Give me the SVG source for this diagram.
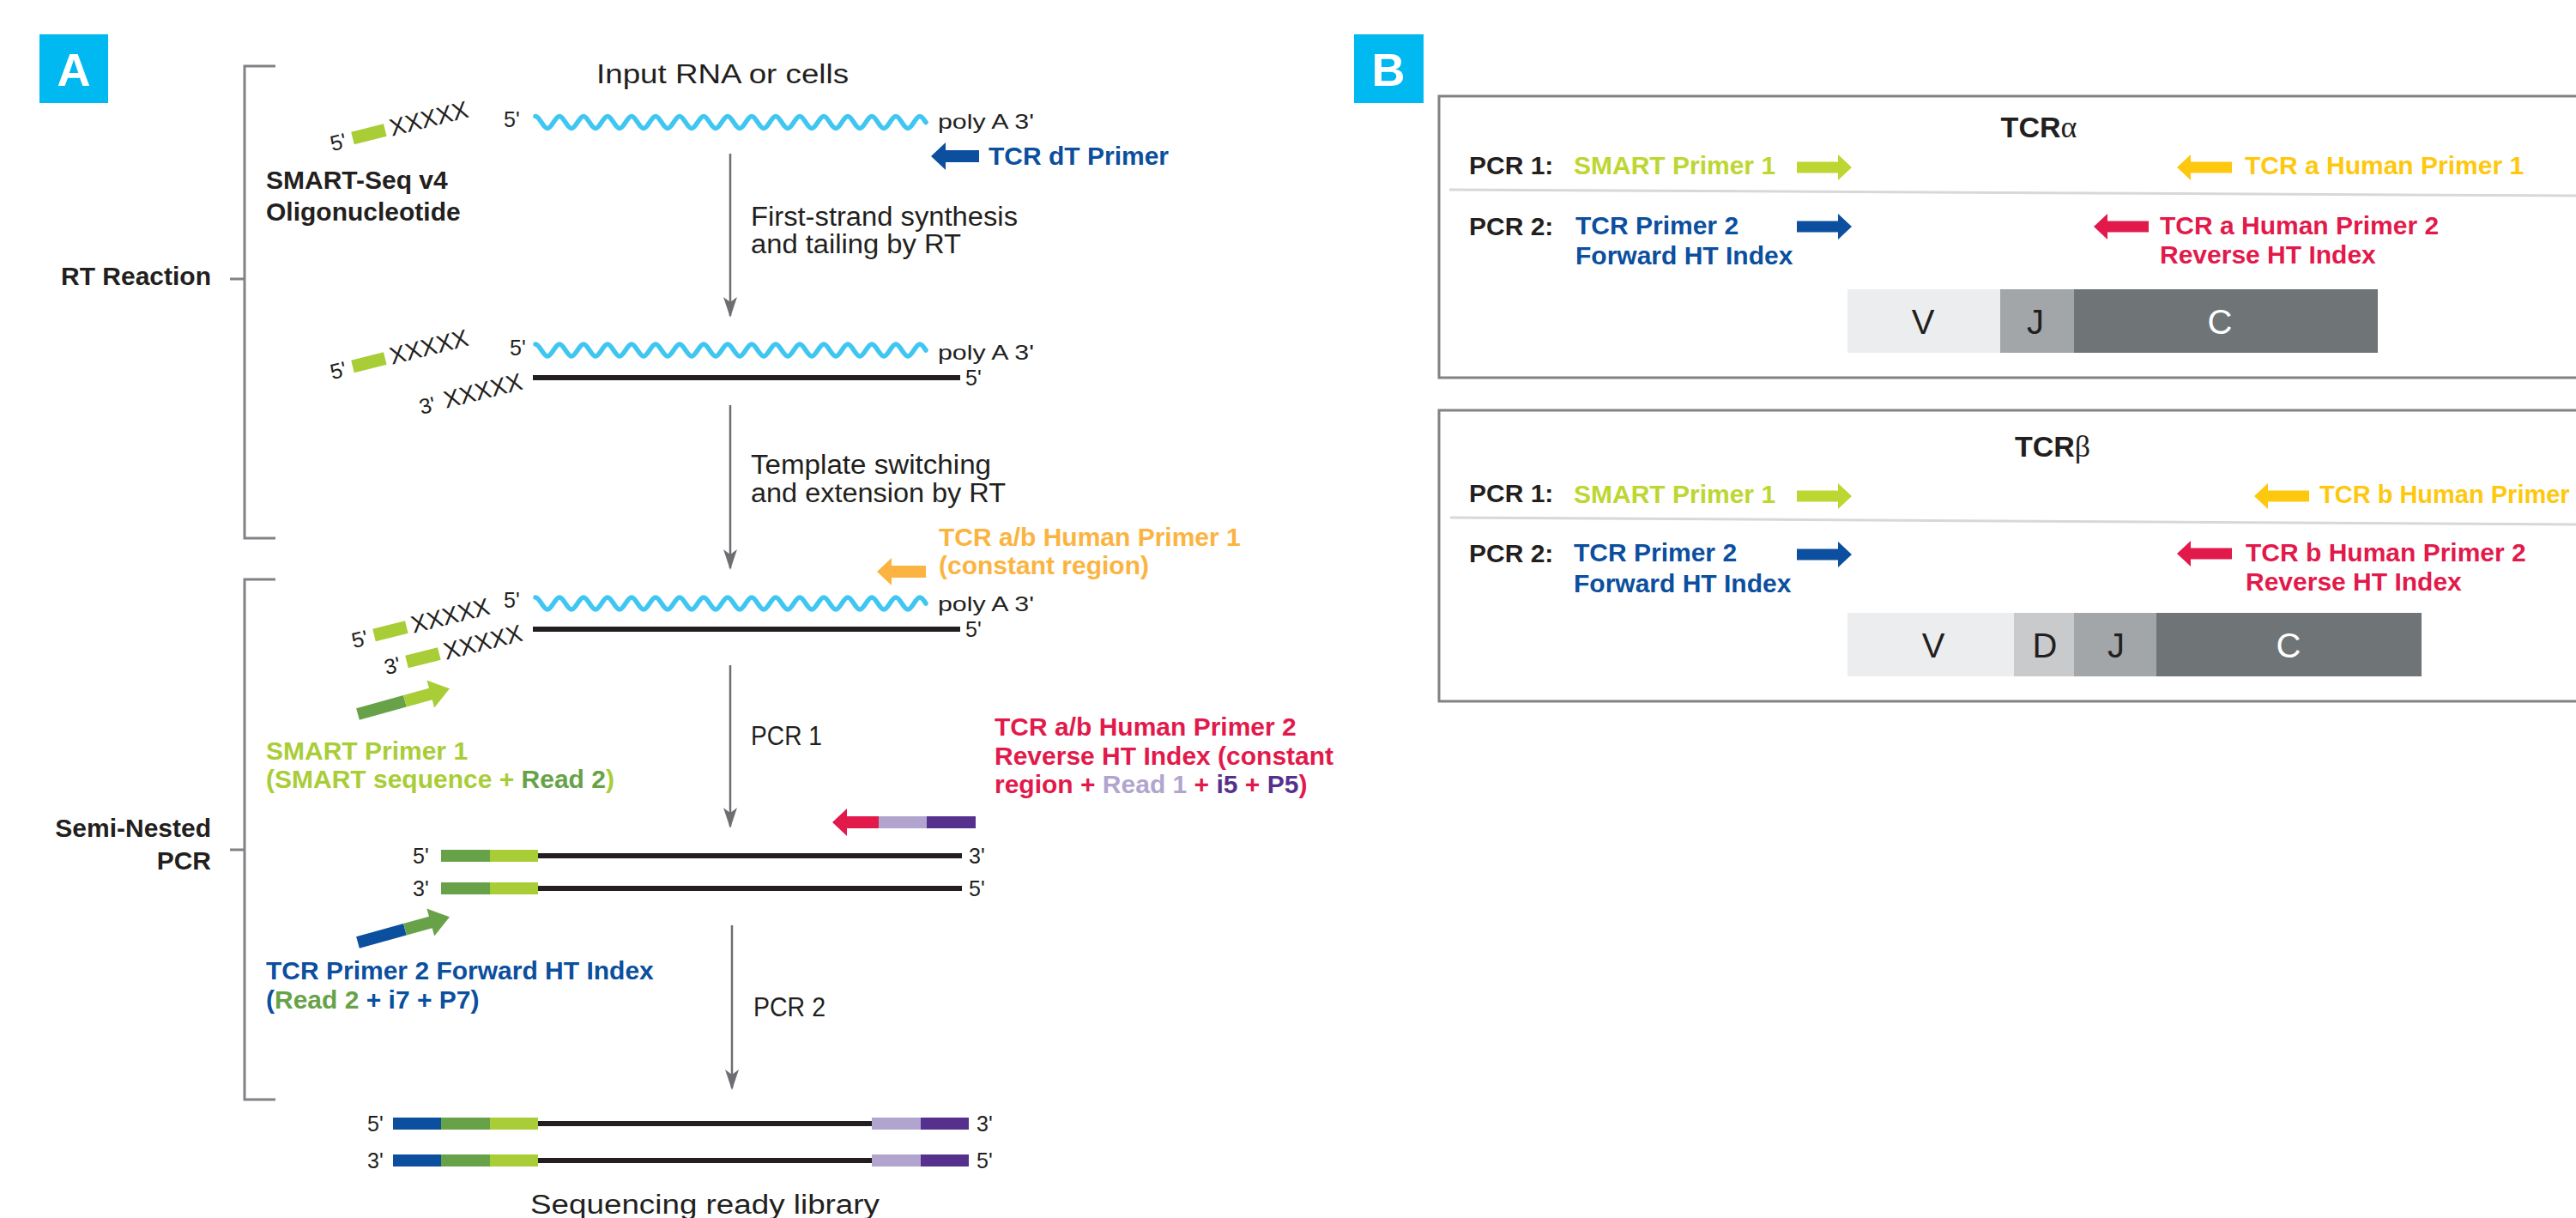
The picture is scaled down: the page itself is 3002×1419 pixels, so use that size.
<svg xmlns="http://www.w3.org/2000/svg" xmlns:xlink="http://www.w3.org/1999/xlink" width="3002" height="1419" viewBox="0 0 3002 1419">
<style>
text{font-family:"Liberation Sans",Arial,sans-serif}
.r{font-size:31px;fill:#231f20}
.b{font-size:30px;font-weight:bold}
.k{fill:#231f20}
.lbl{font-size:25px;fill:#231f20}
.pa{font-size:24px;fill:#231f20}
.xx{font-size:28px;fill:#231f20}
.strand{stroke:#231f20;stroke-width:6}
.br{stroke:#808285;stroke-width:3;fill:none}
.flow{stroke:#6d6e71;stroke-width:2.5;marker-end:url(#ah)}
.wave{stroke:#3fc6f1;stroke-width:5.5;fill:none;stroke-linecap:round}
.lg{fill:#a8cd37}.dg{fill:#67a248}.bl{fill:#0b4f9e}.rd{fill:#e21a4b}.lv{fill:#b1a5d0}.pu{fill:#55318d}.or{fill:#fbb441}.ye{fill:#fdc80e}.sg{fill:#bdd631}
.panel{stroke:#808285;stroke-width:3;fill:none}
.sep{stroke:#d6d9d9;stroke-width:3}
.seg{font-size:40px}
</style>
<defs>
<marker id="ah" markerUnits="userSpaceOnUse" viewBox="0 0 24 16" refX="22" refY="8" markerWidth="24" markerHeight="16" orient="auto">
<path d="M0,0 L24,8 L0,16 L6,8 Z" fill="#6d6e71"/>
</marker>
<path id="wave" d="M0,-7 c5,0 9,14 14,14 s9,-14 14,-14 s9,14 14,14 s9,-14 14,-14 s9,14 14,14 s9,-14 14,-14 s9,14 14,14 s9,-14 14,-14 s9,14 14,14 s9,-14 14,-14 s9,14 14,14 s9,-14 14,-14 s9,14 14,14 s9,-14 14,-14 s9,14 14,14 s9,-14 14,-14 s9,14 14,14 s9,-14 14,-14 s9,14 14,14 s9,-14 14,-14 s9,14 14,14 s9,-14 14,-14 s9,14 14,14 s9,-14 14,-14 s9,14 14,14 s9,-14 14,-14 s9,14 14,14 s9,-14 14,-14 s9,14 14,14 s9,-14 14,-14 s9,14 14,14 s9,-14 14,-14 c3,0 5,4.5 7,7"/>
<path id="ra" d="M0,-6.5 H48 V-15 L64,0 L48,15 V6.5 H0 Z"/>
<path id="la" d="M64,-6.5 H16 V-15 L0,0 L16,15 V6.5 H64 Z"/>
</defs>
<rect width="3002" height="1419" fill="#ffffff"/>

<!-- Panel labels -->
<g id="label-A"><rect x="46" y="40" width="80" height="80" fill="#00b9f1"/><text x="86" y="100" text-anchor="middle" font-size="54" font-weight="bold" fill="#ffffff">A</text></g>
<g id="label-B"><rect x="1578" y="40" width="81" height="80" fill="#00b9f1"/><text x="1618" y="100" text-anchor="middle" font-size="54" font-weight="bold" fill="#ffffff">B</text></g>

<!-- Brackets -->
<g id="bracket-rt">
<path class="br" d="M321,77 H285 V627 H321 M268,325 H285"/>
<text class="b k" x="246" y="332" text-anchor="end">RT Reaction</text>
</g>
<g id="bracket-pcr">
<path class="br" d="M321,675 H285 V1281 H321 M268,990 H285"/>
<text class="b k" x="246" y="975" text-anchor="end">Semi-Nested</text>
<text class="b k" x="246" y="1013" text-anchor="end">PCR</text>
</g>

<!-- Step 1: input RNA -->
<g id="input-rna">
<text class="r" x="695" y="97" textLength="294" lengthAdjust="spacingAndGlyphs">Input RNA or cells</text>
<text class="lbl" x="587" y="148">5'</text>
<use xlink:href="#wave" href="#wave" class="wave" x="624" y="142.5"/>
<text class="pa" x="1093" y="150" textLength="112" lengthAdjust="spacingAndGlyphs">poly A 3'</text>
</g>
<g id="oligo-1" transform="translate(411,161) rotate(-14)">
<text class="lbl" x="-8" y="9" text-anchor="end">5'</text>
<rect class="lg" x="0" y="-7.5" width="39" height="15"/>
<text class="xx" x="45" y="9">XXXXX</text>
</g>
<g id="smartseq-label">
<text class="b k" x="310" y="220">SMART-Seq v4</text>
<text class="b k" x="310" y="257">Oligonucleotide</text>
</g>
<g id="tcr-dt-primer">
<path class="bl" d="M1085,182 L1102,166 V175 H1141 V189 H1102 V198 Z"/>
<text class="b" x="1152" y="192" fill="#0b4f9e">TCR dT Primer</text>
</g>

<!-- Step 2: first strand -->
<g id="first-strand">
<g id="oligo-2" transform="translate(411,427) rotate(-14)">
<text class="lbl" x="-8" y="9" text-anchor="end">5'</text>
<rect class="lg" x="0" y="-7.5" width="39" height="15"/>
<text class="xx" x="45" y="9">XXXXX</text>
</g>
<text class="lbl" x="594" y="414">5'</text>
<use xlink:href="#wave" href="#wave" class="wave" x="624" y="408"/>
<text class="pa" x="1093" y="419" textLength="112" lengthAdjust="spacingAndGlyphs">poly A 3'</text>
<g transform="translate(474,478) rotate(-14)">
<text class="lbl" x="34" y="9" text-anchor="end">3'</text>
<text class="xx" x="45" y="9">XXXXX</text>
</g>
<line class="strand" x1="621" y1="440" x2="1119" y2="440"/>
<text class="lbl" x="1125" y="449">5'</text>
</g>

<!-- Step 3: template switching -->
<g id="template-switched">
<g transform="translate(436,740) rotate(-14)">
<text class="lbl" x="-8" y="9" text-anchor="end">5'</text>
<rect class="lg" x="0" y="-7.5" width="39" height="15"/>
<text class="xx" x="45" y="9">XXXXX</text>
</g>
<text class="lbl" x="587" y="708">5'</text>
<use xlink:href="#wave" href="#wave" class="wave" x="624" y="703"/>
<text class="pa" x="1093" y="712" textLength="112" lengthAdjust="spacingAndGlyphs">poly A 3'</text>
<g transform="translate(474,771) rotate(-14)">
<text class="lbl" x="-8" y="9" text-anchor="end">3'</text>
<rect class="lg" x="0" y="-7.5" width="39" height="15"/>
<text class="xx" x="45" y="9">XXXXX</text>
</g>
<line class="strand" x1="621" y1="733" x2="1119" y2="733"/>
<text class="lbl" x="1125" y="742">5'</text>
</g>
<g id="tcr-human-primer-1">
<path class="or" d="M1022,666 L1039,650 V659 H1079 V673 H1039 V682 Z"/>
<text class="b" x="1094" y="636" fill="#fbb441">TCR a/b Human Primer 1</text>
<text class="b" x="1094" y="669" fill="#fbb441">(constant region)</text>
</g>
<g id="smart-primer-1">
<g transform="translate(417,832) rotate(-15.5)">
<rect class="dg" x="0" y="-7" width="57" height="14"/>
<rect class="lg" x="57" y="-7" width="32" height="14"/>
<polygon class="lg" points="88,-16.5 111,0 88,16.5"/>
</g>
<text class="b" x="310" y="885" fill="#a8cd37">SMART Primer 1</text>
<text class="b" x="310" y="918" fill="#a8cd37">(SMART sequence + <tspan fill="#67a248">Read 2</tspan>)</text>
</g>
<g id="tcr-human-primer-2">
<rect class="lv" x="1023" y="951" width="57" height="14"/>
<rect class="pu" x="1080" y="951" width="57" height="14"/>
<path class="rd" d="M970,958 L987,942 V951 H1024 V965 H987 V974 Z"/>
<text class="b" x="1159" y="857" fill="#e21a4b">TCR a/b Human Primer 2</text>
<text class="b" x="1159" y="891" fill="#e21a4b">Reverse HT Index (constant</text>
<text class="b" x="1159" y="924" fill="#e21a4b">region + <tspan fill="#b1a5d0">Read 1</tspan> + <tspan fill="#55318d">i5</tspan> + <tspan fill="#55318d">P5</tspan>)</text>
</g>

<!-- PCR1 product -->
<g id="pcr1-product">
<text class="lbl" x="481" y="1006">5'</text>
<line class="strand" x1="626" y1="997" x2="1121" y2="997"/>
<rect class="dg" x="514" y="990" width="57" height="14"/>
<rect class="lg" x="571" y="990" width="56" height="14"/>
<text class="lbl" x="1129" y="1006">3'</text>
<text class="lbl" x="481" y="1044">3'</text>
<line class="strand" x1="626" y1="1035" x2="1121" y2="1035"/>
<rect class="dg" x="514" y="1028" width="57" height="14"/>
<rect class="lg" x="571" y="1028" width="56" height="14"/>
<text class="lbl" x="1129" y="1044">5'</text>
</g>
<g id="tcr-primer-2-fwd">
<g transform="translate(417,1098) rotate(-15.5)">
<rect class="bl" x="0" y="-7" width="57" height="14"/>
<rect class="dg" x="57" y="-7" width="32" height="14"/>
<polygon class="dg" points="88,-16.5 111,0 88,16.5"/>
</g>
<text class="b" x="310" y="1141" fill="#0b4f9e">TCR Primer 2 Forward HT Index</text>
<text class="b" x="310" y="1175" fill="#0b4f9e">(<tspan fill="#67a248">Read 2</tspan> + i7 + P7)</text>
</g>

<!-- Final library -->
<g id="library">
<text class="lbl" x="428" y="1318">5'</text>
<line class="strand" x1="626" y1="1309" x2="1016" y2="1309"/>
<rect class="bl" x="458" y="1302" width="56" height="14"/>
<rect class="dg" x="514" y="1302" width="57" height="14"/>
<rect class="lg" x="571" y="1302" width="56" height="14"/>
<rect class="lv" x="1016" y="1302" width="57" height="14"/>
<rect class="pu" x="1073" y="1302" width="56" height="14"/>
<text class="lbl" x="1138" y="1318">3'</text>
<text class="lbl" x="428" y="1361">3'</text>
<line class="strand" x1="626" y1="1352" x2="1016" y2="1352"/>
<rect class="bl" x="458" y="1345" width="56" height="14"/>
<rect class="dg" x="514" y="1345" width="57" height="14"/>
<rect class="lg" x="571" y="1345" width="56" height="14"/>
<rect class="lv" x="1016" y="1345" width="57" height="14"/>
<rect class="pu" x="1073" y="1345" width="56" height="14"/>
<text class="lbl" x="1138" y="1361">5'</text>
<text class="r" x="618" y="1414" textLength="407" lengthAdjust="spacingAndGlyphs">Sequencing ready library</text>
</g>

<!-- Connectors -->
<g id="connectors">
<line class="flow" x1="851" y1="179" x2="851" y2="368"/>
<line class="flow" x1="851" y1="472" x2="851" y2="662"/>
<line class="flow" x1="851" y1="775" x2="851" y2="963"/>
<line class="flow" x1="853" y1="1078" x2="853" y2="1268"/>
</g>
<g id="step-labels">
<text class="r" x="875" y="263" textLength="311" lengthAdjust="spacingAndGlyphs">First-strand synthesis</text>
<text class="r" x="875" y="295" textLength="245" lengthAdjust="spacingAndGlyphs">and tailing by RT</text>
<text class="r" x="875" y="552" textLength="280" lengthAdjust="spacingAndGlyphs">Template switching</text>
<text class="r" x="875" y="585" textLength="297" lengthAdjust="spacingAndGlyphs">and extension by RT</text>
<text class="r" x="875" y="868" textLength="83" lengthAdjust="spacingAndGlyphs">PCR 1</text>
<text class="r" x="878" y="1184" textLength="84" lengthAdjust="spacingAndGlyphs">PCR 2</text>
</g>

<!-- Panel B: TCR alpha -->
<g id="tcr-alpha">
<path class="panel" d="M3002,112 H1677 V440 H3002"/>
<text x="2376" y="160" text-anchor="middle" font-size="34" font-weight="bold" class="k">TCR<tspan font-family="Liberation Serif" font-weight="normal" font-size="36">α</tspan></text>
<text class="b k" x="1712" y="203">PCR 1:</text>
<text class="b" x="1834" y="203" fill="#bdd631">SMART Primer 1</text>
<use xlink:href="#ra" href="#ra" class="sg" x="2094" y="195"/>
<use xlink:href="#la" href="#la" class="ye" x="2537" y="195"/>
<text class="b" x="2616" y="203" fill="#fdc80e">TCR a Human Primer 1</text>
<line class="sep" x1="1689" y1="221" x2="3002" y2="228"/>
<text class="b k" x="1712" y="274">PCR 2:</text>
<text class="b" x="1836" y="273" fill="#0b4f9e">TCR Primer 2</text>
<text class="b" x="1836" y="308" fill="#0b4f9e">Forward HT Index</text>
<use xlink:href="#ra" href="#ra" class="bl" x="2094" y="264"/>
<use xlink:href="#la" href="#la" class="rd" x="2440" y="264"/>
<text class="b" x="2517" y="273" fill="#e21a4b">TCR a Human Primer 2</text>
<text class="b" x="2517" y="307" fill="#e21a4b">Reverse HT Index</text>
<rect x="2153" y="337" width="178" height="74" fill="#ecedee"/>
<rect x="2331" y="337" width="86" height="74" fill="#a2a6a8"/>
<rect x="2417" y="337" width="354" height="74" fill="#6f7576"/>
<text class="seg k" x="2241" y="389" text-anchor="middle">V</text>
<text class="seg k" x="2372" y="389" text-anchor="middle">J</text>
<text class="seg" x="2587" y="389" text-anchor="middle" fill="#ffffff">C</text>
</g>

<!-- Panel B: TCR beta -->
<g id="tcr-beta">
<path class="panel" d="M3002,478 H1677 V817 H3002"/>
<text x="2392" y="532" text-anchor="middle" font-size="34" font-weight="bold" class="k">TCR<tspan font-family="Liberation Serif" font-weight="normal" font-size="36">β</tspan></text>
<text class="b k" x="1712" y="585">PCR 1:</text>
<text class="b" x="1834" y="586" fill="#bdd631">SMART Primer 1</text>
<use xlink:href="#ra" href="#ra" class="sg" x="2094" y="578"/>
<use xlink:href="#la" href="#la" class="ye" x="2627" y="578"/>
<text x="2703" y="586" fill="#fdc80e" font-size="29" font-weight="bold">TCR b Human Primer</text>
<line class="sep" x1="1690" y1="603" x2="3002" y2="611"/>
<text class="b k" x="1712" y="655">PCR 2:</text>
<text class="b" x="1834" y="654" fill="#0b4f9e">TCR Primer 2</text>
<text class="b" x="1834" y="690" fill="#0b4f9e">Forward HT Index</text>
<use xlink:href="#ra" href="#ra" class="bl" x="2094" y="646"/>
<use xlink:href="#la" href="#la" class="rd" x="2537" y="645"/>
<text class="b" x="2617" y="654" fill="#e21a4b">TCR b Human Primer 2</text>
<text class="b" x="2617" y="688" fill="#e21a4b">Reverse HT Index</text>
<rect x="2153" y="714" width="194" height="74" fill="#ecedee"/>
<rect x="2347" y="714" width="70" height="74" fill="#c9cacc"/>
<rect x="2417" y="714" width="96" height="74" fill="#a2a6a8"/>
<rect x="2513" y="714" width="309" height="74" fill="#6f7576"/>
<text class="seg k" x="2253" y="766" text-anchor="middle">V</text>
<text class="seg k" x="2383" y="766" text-anchor="middle">D</text>
<text class="seg k" x="2466" y="766" text-anchor="middle">J</text>
<text class="seg" x="2667" y="766" text-anchor="middle" fill="#ffffff">C</text>
</g>
</svg>
